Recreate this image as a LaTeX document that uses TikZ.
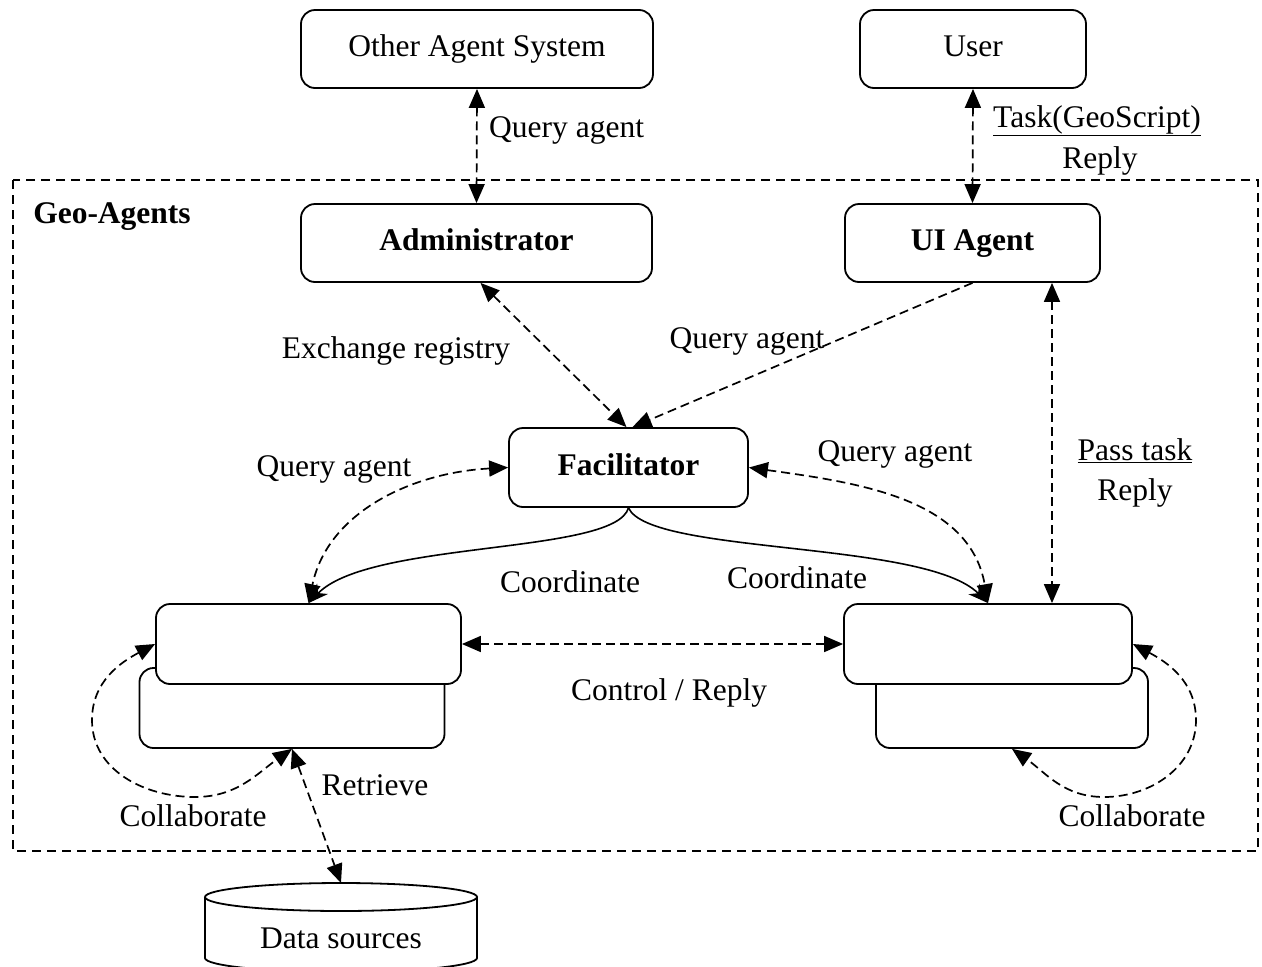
\documentclass[tikz,border=0pt]{standalone}
\usepackage{fontspec}
\setmainfont{Liberation Serif}
\usetikzlibrary{arrows.meta}
\begin{document}
\begin{tikzpicture}[x=1pt,y=-1pt,
  every node/.style={font=\fontsize{31.5}{36}\selectfont, inner sep=0pt, text height=22pt, text depth=7pt},
  boldtext/.style={font=\fontsize{31.5}{36}\selectfont\bfseries},
  agentbox/.style={draw, line width=1.8pt, rounded corners=14pt, fill=white},
  tri/.tip={Triangle[length=19pt,width=16pt]},
  stl/.tip={Stealth[length=20pt,width=15pt,inset=6pt]},
  dline/.style={line width=1.7pt, dash pattern=on 9pt off 5pt, tri-tri},
  dlineend/.style={line width=1.7pt, dash pattern=on 9pt off 5pt, -tri},
  sline/.style={line width=1.6pt, -stl},
  frame/.style={line width=1.7pt, dash pattern=on 9pt off 6pt}]
\useasboundingbox (0,0) rectangle (1262,967);

% Geo-Agents container
\draw[frame] (13,180) rectangle (1258,851);
\node[boldtext] (geo) at (112,216) {Geo-Agents};

% external boxes
\node[agentbox, minimum width=352pt, minimum height=78pt] (oas) at (477,49) {Other Agent System};
\node[agentbox, minimum width=226pt, minimum height=78pt] (user) at (973,49) {User};

% agents
\node[agentbox, boldtext, minimum width=351pt, minimum height=78pt] (admin) at (476.5,243) {Administrator};
\node[agentbox, boldtext, minimum width=255pt, minimum height=78pt] (ui) at (972.5,243) {UI Agent};
\node[agentbox, boldtext, minimum width=239pt, minimum height=79pt] (fac) at (628.5,467.5) {Facilitator};

% stacked agent groups
\node[agentbox, minimum width=305pt, minimum height=80pt] (lback) at (292,708) {};
\node[agentbox, minimum width=305pt, minimum height=80pt] (lfront) at (308.5,644) {};
\node[agentbox, minimum width=272pt, minimum height=80pt] (rback) at (1012,708) {};
\node[agentbox, minimum width=288pt, minimum height=80pt] (rfront) at (988,644) {};

% data store (y axis points down, so the lower rim runs from 180 to 0 degrees)
\draw[line width=1.8pt, fill=white] (205,897) -- (205,958)
  arc[start angle=180, end angle=0, x radius=136, y radius=14] -- (477,897);
\draw[line width=1.8pt] (341,897) ellipse[x radius=136, y radius=14];
\coordinate (datatop) at (341,883);
\node (data) at (341,941) {Data sources};

% external links
\draw[dline] (oas.south) -- (admin.north);
\node[anchor=west] (q1) at (489,130) {Query agent};
\draw[dline] (user.south) -- (ui.north);
\node[anchor=west] (task) at (993,120) {\underline{Task(GeoScript)}};
\node (rep1) at (1100,161) {Reply};

% links to the facilitator
\draw[dline] ([xshift=4pt]admin.south) -- ([xshift=-2pt]fac.north);
\node (exreg) at (396,351) {Exchange registry};
\draw[dlineend] (ui.south) -- ([xshift=4pt]fac.north);
\node (q2) at (747,341) {Query agent};
\draw[dline] (fac.west) to[out=183, in=78] (lfront.north);
\node (q3) at (334,469) {Query agent};
\draw[dline] (fac.east) to[out=-8, in=100] (rfront.north);
\node (q4) at (895,454) {Query agent};

% coordination
\draw[sline] (fac.south) .. controls (615,555) and (370,540) .. (lfront.north);
\node (co1) at (570,585) {Coordinate};
\draw[sline] (fac.south) .. controls (650,555) and (925,540) .. (rfront.north);
\node (co2) at (797,581) {Coordinate};

% task passing
\coordinate (pt) at ([xshift=79.5pt]ui.south);
\draw[dline] (pt) -- (pt |- rfront.north);
\node (pass) at (1135,453) {\underline{Pass task}};
\node (rep2) at (1135,493) {Reply};

% control between groups
\draw[dline] (lfront.east) -- (rfront.west);
\node (ctrl) at (669,693) {Control / Reply};

% collaboration loops
\coordinate (lc1) at (92,720);
\coordinate (lc2) at (195,797);
\draw[dline] (lfront.west) to[out=208, in=90] (lc1) to[out=-90, in=180] (lc2) to[out=0, in=215] (lback.south);
\node (col1) at (193,819) {Collaborate};
\coordinate (rc1) at (1196,720);
\coordinate (rc2) at (1104,797);
\draw[dline] (rfront.east) to[out=-28, in=90] (rc1) to[out=-90, in=0] (rc2) to[out=180, in=-35] (rback.south);
\node (col2) at (1132,819) {Collaborate};

% retrieval
\draw[dline] (lback.south) -- (datatop);
\node (ret) at (375,788) {Retrieve};
\end{tikzpicture}
\end{document}
